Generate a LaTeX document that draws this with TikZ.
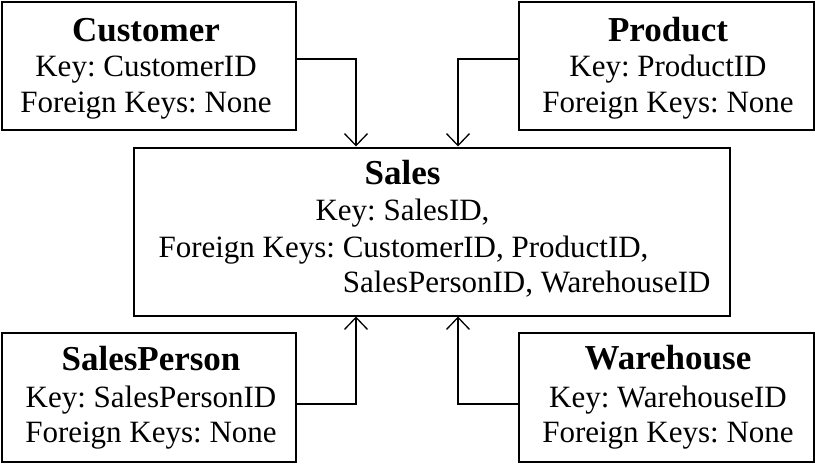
\documentclass[tikz,border=0pt]{standalone}
\usepackage{fontspec}
\setmainfont{Liberation Serif}
\usetikzlibrary{arrows.meta}
\frenchspacing
\begin{document}
\begin{tikzpicture}[x=1pt,y=-1pt,
  box/.style={draw=black, line width=2pt, inner sep=0pt, rectangle},
  ttl/.style={font=\fontsize{35}{40}\selectfont\bfseries, anchor=base, inner sep=0pt},
  txt/.style={font=\fontsize{31}{36}\selectfont, anchor=base, inner sep=0pt},
  link/.style={line width=1.3pt, -{Straight Barb[length=12pt,width=23pt,line width=1.3pt]}}]
\useasboundingbox (0,0) rectangle (815,464);
\fill[white] (0,0) rectangle (815,464);
% boxes
\node[box, minimum width=294pt, minimum height=128.5pt] (cust) at (148.5,65.8) {};
\node[box, minimum width=295pt, minimum height=128.5pt] (prod) at (666,65.8) {};
\node[box, minimum width=596pt, minimum height=168pt] (sales) at (431.5,231.5) {};
\node[box, minimum width=294pt, minimum height=128.5pt] (sp) at (148.5,397.25) {};
\node[box, minimum width=295pt, minimum height=129pt] (wh) at (666,397) {};
% connectors
\coordinate (c1) at (356,59);
\coordinate (p1) at (458,59);
\coordinate (s1) at (356,404);
\coordinate (w1) at (458,404);
\draw[link] (cust.east |- c1) -- (c1) -- (c1 |- sales.north);
\draw[link] (prod.west |- p1) -- (p1) -- (p1 |- sales.north);
\draw[link] (sp.east |- s1) -- (s1) -- (s1 |- sales.south);
\draw[link] (wh.west |- w1) -- (w1) -- (w1 |- sales.south);
% texts
\node[ttl] (custT) at (146,41) {Customer};
\node[txt] (custK) at (146,76) {Key: CustomerID};
\node[txt] (custF) at (146,112) {Foreign Keys: None};
\node[ttl] (prodT) at (668,41) {Product};
\node[txt] (prodK) at (668,76) {Key: ProductID};
\node[txt] (prodF) at (668,112) {Foreign Keys: None};
\node[ttl] (salesT) at (402.5,184) {Sales};
\node[txt] (salesK) at (402.5,220) {Key: SalesID,};
\node[txt] (salesF) at (403.5,257) {Foreign Keys: CustomerID, ProductID,};
\node[txt, anchor=base west, yshift=-35pt] (salesL) at (salesF.base west) {\phantom{Foreign Keys:}\ SalesPersonID, WarehouseID};
\node[ttl] (spT) at (151,370) {SalesPerson};
\node[txt] (spK) at (151,407) {Key: SalesPersonID};
\node[txt] (spF) at (151,442) {Foreign Keys: None};
\node[ttl] (whT) at (668,369) {Warehouse};
\node[txt] (whK) at (668,407) {Key: WarehouseID};
\node[txt] (whF) at (668,442) {Foreign Keys: None};
\end{tikzpicture}
\end{document}
